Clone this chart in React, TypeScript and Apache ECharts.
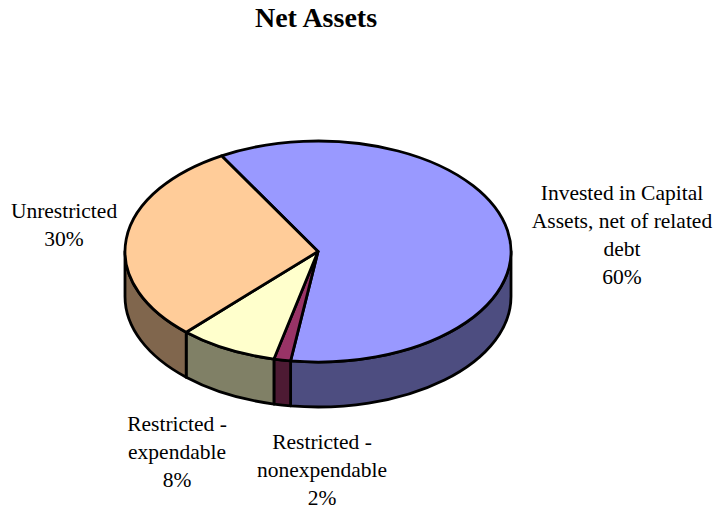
import React, { useEffect, useRef } from "react";
import * as echarts from "echarts";

const categories = [
  "Invested in Capital\nAssets, net of related\ndebt",
  "Restricted -\nnonexpendable",
  "Restricted -\nexpendable",
  "Unrestricted",
];
const values = [60.6, 1.4, 8.3, 29.7];
const percentLabels = ["60%", "2%", "8%", "30%"];
const topColors = ["#9999FF", "#993366", "#FFFFCC", "#FFCC99"];
const sideColors = ["#4D4D80", "#4D1A33", "#808066", "#80664D"];
const labelCenters = [
  [622, 235],
  [322, 470],
  [177, 452],
  [64, 224.5],
];

const CX = 318;
const CY = 251.5;
const RX = 193;
const RY = 110.5;
const DEPTH = 45;
const START_DEG = -30;
const FONT = '"Liberation Serif", "Times New Roman", serif';
const total = values.reduce((a, b) => a + b, 0);

function sliceAngles(index: number): [number, number] {
  let sum = 0;
  for (let i = 0; i < index; i++) sum += values[i];
  const a = START_DEG + (sum / total) * 360;
  return [a, a + (values[index] / total) * 360];
}
const px = (deg: number) => CX + RX * Math.sin((deg * Math.PI) / 180);
const py = (deg: number) => CY - RY * Math.cos((deg * Math.PI) / 180);
const arc = (to: number, sweep: number, large: number, dy = 0) =>
  `A${RX} ${RY} 0 ${large} ${sweep} ${px(to)} ${py(to) + dy}`;

function renderSide(params: any, api: any) {
  const [a0, a1] = sliceAngles(api.value(0));
  // Only the front half of the rim, 90..270 degrees clockwise from top, is visible.
  const s = Math.max(a0, 90);
  const e = Math.min(a1, 270);
  if (e <= s) return { type: "group", children: [] };
  const d =
    `M${px(s)} ${py(s)}` +
    arc(e, 1, 0) +
    `L${px(e)} ${py(e) + DEPTH}` +
    arc(s, 0, 0, DEPTH) +
    "Z";
  return {
    type: "path",
    shape: { pathData: d },
    style: { fill: sideColors[params.dataIndex], stroke: "#000", lineWidth: 2.8, lineJoin: "round" },
  };
}

function renderTop(params: any, api: any) {
  const [a0, a1] = sliceAngles(api.value(0));
  const large = a1 - a0 > 180 ? 1 : 0;
  const d = `M${CX} ${CY}L${px(a0)} ${py(a0)}` + arc(a1, 1, large) + "Z";
  return {
    type: "path",
    shape: { pathData: d },
    style: { fill: topColors[params.dataIndex], stroke: "#000", lineWidth: 2.8, lineJoin: "round" },
  };
}

export default function App() {
  const ref = useRef<HTMLDivElement>(null);
  useEffect(() => {
    document.body.style.margin = "0";
    const chart = echarts.init(ref.current!, null, { renderer: "svg" });
    const data = values.map((_, i) => [i]);
    chart.setOption({
      animation: false,
      backgroundColor: "#fff",
      title: {
        text: "Net Assets",
        left: 311,
        top: -2,
        textAlign: "center",
        textStyle: { fontFamily: FONT, fontSize: 28, fontWeight: "bold", color: "#000" },
      },
      series: [
        { type: "custom", coordinateSystem: "none", renderItem: renderSide, data, silent: true, z: 2 },
        { type: "custom", coordinateSystem: "none", renderItem: renderTop, data, silent: true, z: 3 },
      ],
      graphic: categories.map((name, i) => ({
        type: "text",
        x: labelCenters[i][0],
        y: labelCenters[i][1],
        style: {
          text: `${name}\n${percentLabels[i]}`,
          align: "center",
          verticalAlign: "middle",
          fontFamily: FONT,
          fontSize: 21.5,
          lineHeight: 28,
          fill: "#000",
        },
      })),
    });
    return () => chart.dispose();
  }, []);
  return <div ref={ref} style={{ width: 714, height: 510 }} />;
}
